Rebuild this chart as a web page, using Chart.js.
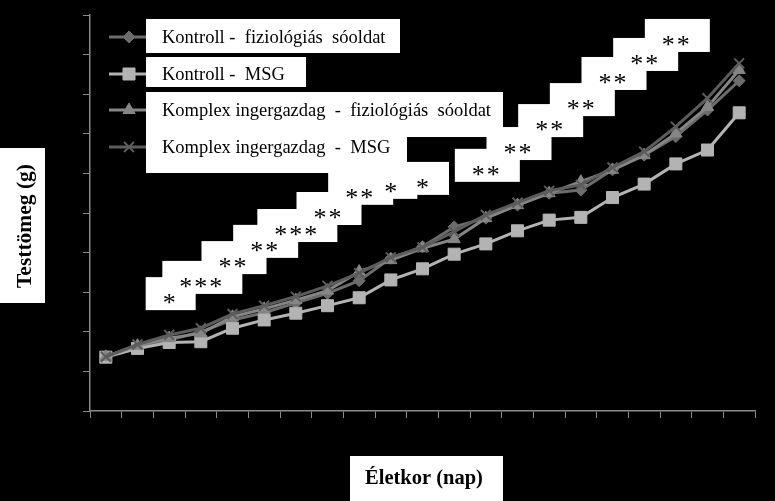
<!DOCTYPE html>
<html>
<head>
<meta charset="utf-8">
<script src="https://cdn.jsdelivr.net/npm/chart.js@4"></script>
<style>
  html, body { margin: 0; padding: 0; background: #000; }
  #wrap { width: 775px; height: 501px; }
</style>
</head>
<body>
<div id="wrap"><canvas id="chart"></canvas></div>
<script>
// age (day) categories - tick labels are black on black in the original
var napok = ['1','2','3','4','5','6','7','8','9','10','11','12','13','14','15','16','17','18','19','20','21'];

// body weight series (same units as the hidden y axis, 0-100)
var kontrollFiz = [13.7, 16.5, 17.9, 20.0, 23.0, 24.8, 27.3, 29.7, 32.9, 38.6, 41.5, 46.5, 48.7, 52.0, 55.0, 55.8, 60.9, 64.6, 69.3, 76.0, 83.4];
var kontrollMSG = [13.6, 15.8, 17.3, 17.5, 20.9, 23.0, 24.7, 26.6, 28.6, 33.1, 35.9, 39.6, 42.2, 45.5, 48.2, 48.9, 53.9, 57.3, 62.4, 65.9, 75.3];
var komplexFiz  = [13.7, 16.5, 18.4, 19.6, 23.8, 25.8, 28.0, 30.4, 35.2, 38.1, 41.1, 43.4, 48.7, 52.0, 55.0, 57.9, 60.9, 64.6, 70.1, 76.8, 86.1];
var komplexMSG  = [13.7, 16.8, 19.2, 20.9, 24.5, 26.6, 28.9, 31.6, 34.8, 38.8, 41.3, 45.3, 49.5, 52.6, 55.6, 57.1, 61.5, 65.5, 71.8, 79.0, 87.8];

var seriesNames = [
  'Kontroll -  fiziológiás  sóoldat',
  'Kontroll -  MSG',
  'Komplex ingergazdag  -  fiziológiás  sóoldat',
  'Komplex ingergazdag  -  MSG'
];

// significance marks and the level they are written at
var sigLabels = ['', '', '*', '***', '**', '**', '***', '**', '**', '*', '*', '', '**', '**', '**', '**', '**', '**', '**', '', ''];
var sigLevel  = [null, null, 28.5, 32.6, 37.6, 41.7, 45.7, 50.0, 55.1, 56.6, 57.6, null, 60.9, 66.4, 72.2, 77.5, 84.1, 88.9, 93.7, null, null];

var serif = '"Liberation Serif", "Times New Roman", serif';
var axisGray = '#8a8a8a';

// white boxes with the asterisks
var sigPlugin = {
  id: 'sigBoxes',
  afterDatasetsDraw: function(chart) {
    var ctx = chart.ctx, x = chart.scales.x, y = chart.scales.y;
    var gap = 15;
    ctx.save();
    var items = [];
    sigLabels.forEach(function(lab, i) {
      if (!lab) return;
      var n = lab.length;
      var w = (n - 1) * gap + 11;
      items.push({ n: n, cx: x.getPixelForValue(i), cy: y.getPixelForValue(sigLevel[i]), w: w });
    });
    ctx.fillStyle = '#fff';
    items.forEach(function(it) {
      ctx.fillRect(it.cx - it.w / 2 - 18, it.cy - 21, it.w + 39, 33);
    });
    ctx.fillStyle = '#000';
    ctx.font = '26px ' + serif;
    ctx.textAlign = 'center';
    ctx.textBaseline = 'alphabetic';
    items.forEach(function(it) {
      var x0 = it.cx - (it.n - 1) * gap / 2;
      for (var k = 0; k < it.n; k++) {
        ctx.fillText('*', x0 + k * gap, it.cy + 13);
      }
    });
    ctx.restore();
  }
};

// legend with white text boxes + axis titles in white boxes
var legendPlugin = {
  id: 'boxLegend',
  afterDraw: function(chart) {
    var ctx = chart.ctx;
    ctx.save();
    ctx.fillStyle = '#fff';
    ctx.fillRect(146, 19, 254, 34);
    ctx.fillRect(146, 57, 160, 30);
    ctx.fillRect(146, 92, 357, 45);
    ctx.fillRect(146, 137, 261, 36);

    var rows = [37, 74, 110, 147];
    ctx.font = '18.5px ' + serif;
    ctx.textBaseline = 'middle';
    ctx.textAlign = 'left';
    chart.data.datasets.forEach(function(ds, i) {
      var ry = rows[i];
      ctx.strokeStyle = ds.borderColor;
      ctx.lineWidth = 3;
      ctx.beginPath();
      ctx.moveTo(109, ry);
      ctx.lineTo(146, ry);
      ctx.stroke();
      ctx.fillStyle = ds.pointBackgroundColor;
      ctx.strokeStyle = ds.pointBorderColor;
      ctx.lineWidth = ds.pointBorderWidth;
      Chart.helpers.drawPoint(ctx, { pointStyle: ds.pointStyle, radius: ds.pointRadius, rotation: 0, borderWidth: ds.pointBorderWidth }, 129, ry);
      ctx.fillStyle = '#000';
      ctx.fillText(ds.label, 162, ry + 1);
    });

    // axis titles
    ctx.fillStyle = '#fff';
    ctx.fillRect(0, 148, 45, 155);
    ctx.fillRect(350, 456, 153, 45);
    ctx.fillStyle = '#000';
    ctx.textAlign = 'center';
    ctx.textBaseline = 'middle';
    ctx.font = 'bold 20.5px ' + serif;
    ctx.fillText('Életkor (nap)', 424, 479);
    ctx.font = 'bold 21.5px ' + serif;
    ctx.translate(25, 226);
    ctx.rotate(-Math.PI / 2);
    ctx.fillText('Testtömeg (g)', 0, 0);
    ctx.restore();
  }
};

function serie(label, data, color, style, radius, order) {
  return {
    label: label,
    data: data,
    borderColor: color,
    backgroundColor: color,
    borderWidth: 3,
    pointStyle: style,
    pointRadius: radius,
    pointBackgroundColor: color,
    pointBorderColor: color,
    pointBorderWidth: style === 'crossRot' ? 2 : 1,
    tension: 0,
    order: order
  };
}

new Chart(document.getElementById('chart'), {
  type: 'line',
  data: {
    labels: napok,
    datasets: [
      serie(seriesNames[0], kontrollFiz, '#6c6c6c', 'rectRot', 6, 3),
      serie(seriesNames[1], kontrollMSG, '#b3b3b3', 'rect', 8.5, 2),
      serie(seriesNames[2], komplexFiz, '#868686', 'triangle', 7, 1),
      serie(seriesNames[3], komplexMSG, '#5c5c5c', 'crossRot', 7, 0)
    ]
  },
  options: {
    responsive: true,
    maintainAspectRatio: false,
    animation: false,
    layout: { padding: { left: 83, right: 20, top: 15, bottom: 83 } },
    plugins: { legend: { display: false }, tooltip: { enabled: false } },
    scales: {
      x: {
        offset: true,
        grid: { offset: true, drawOnChartArea: false, color: axisGray, tickLength: 7 },
        border: { color: axisGray, width: 1.5 },
        ticks: { display: false },
        afterFit: function(s) { s.height = 7; }
      },
      y: {
        min: 0,
        max: 100,
        grid: { drawOnChartArea: false, color: axisGray, tickLength: 7 },
        border: { color: axisGray, width: 1.5 },
        ticks: { display: false, stepSize: 10 },
        afterFit: function(s) { s.width = 7; }
      }
    }
  },
  plugins: [sigPlugin, legendPlugin]
});
</script>
</body>
</html>
